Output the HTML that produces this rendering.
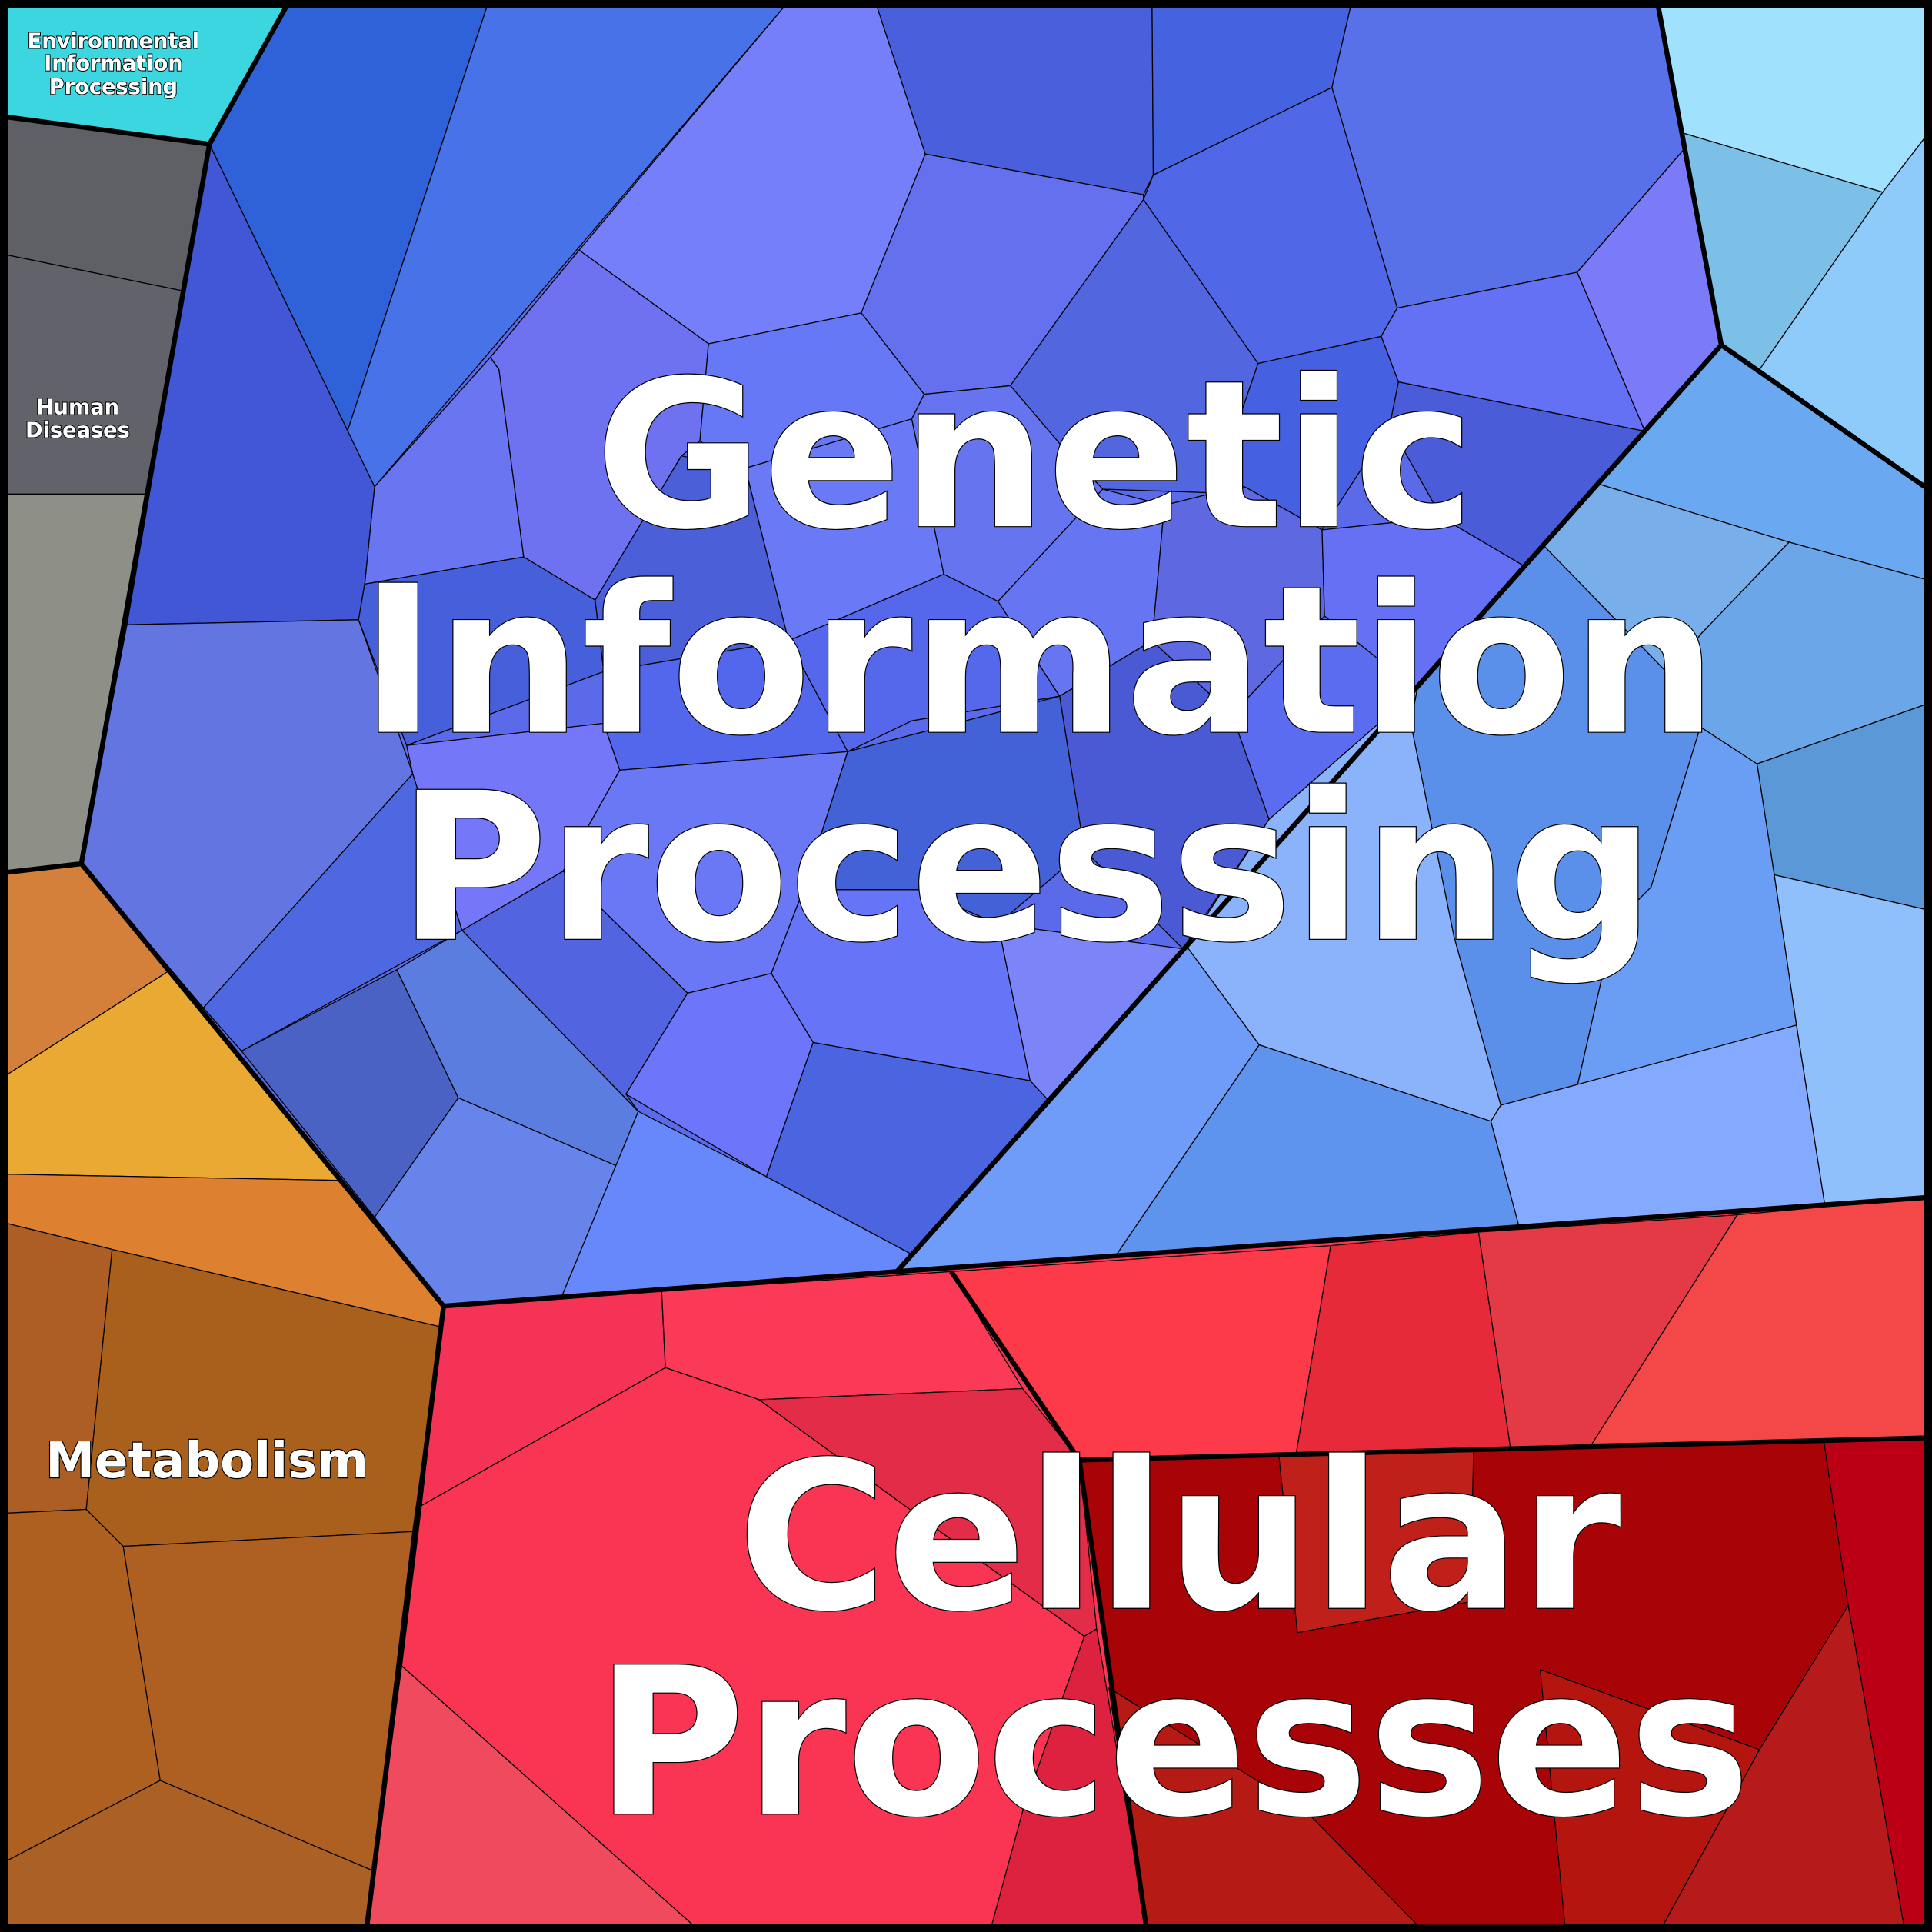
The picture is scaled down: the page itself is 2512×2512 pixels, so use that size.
<!DOCTYPE html>
<html><head><meta charset="utf-8"><style>
html,body{margin:0;padding:0;background:#000;}
svg{display:block;}
.c polygon{stroke:#000;stroke-width:0.8;stroke-linejoin:round;}
.b polygon{stroke:none;}
text{font-family:"DejaVu Sans","Liberation Sans",sans-serif;font-weight:bold;fill:#fff;stroke:#000;text-anchor:middle;paint-order:stroke;}
</style></head><body>
<svg width="2512" height="2512" viewBox="0 0 1568 1568" xmlns="http://www.w3.org/2000/svg">
<rect x="0" y="0" width="1568" height="1568" fill="#000"/>
<g class="b">
<polygon points="170,117 232,6 1346,6 1397,280 728,1032 360,1060 66,701" fill="#5a6ae8"/>
<polygon points="1397,280 1562,395 1562,972 728,1032" fill="#6e9cf8"/>
<polygon points="360,1060 728,1032 1562,972 1562,1562 298,1562" fill="#fa3553"/>
<polygon points="876,1185 1562,1167 1562,1562 930,1562" fill="#a80408"/>
</g>
<g class="c">
<polygon points="6,6 232,6 170,117 6,95" fill="#3bd6e0"/>
<polygon points="6,95 170,117 148,236 6,207" fill="#5f5f66"/>
<polygon points="6,207 148,236 118,401 6,401" fill="#62626a"/>
<polygon points="6,401 118,401 66,701 6,708" fill="#8e9088"/>
<polygon points="6,708 66,701 137,788 6,872" fill="#d4803a"/>
<polygon points="6,872 137,788 276,958 6,953" fill="#eaa933"/>
<polygon points="6,953 276,958 360,1060 358,1077 91,1014 6,993" fill="#dd8130"/>
<polygon points="6,993 91,1014 70,1225 6,1228" fill="#ad5e25"/>
<polygon points="91,1014 358,1077 335,1243 100,1255 70,1225" fill="#a8601c"/>
<polygon points="6,1228 70,1225 100,1255 130,1445 6,1510" fill="#ae6020"/>
<polygon points="100,1255 335,1243 302,1518 130,1445" fill="#ad6022"/>
<polygon points="6,1510 130,1445 302,1518 298,1562 6,1562" fill="#ab6125"/>
<polygon points="170,117 232,6 395,6 282,350 304,395" fill="#2f62d9"/>
<polygon points="395,6 636,6 304,395 282,350" fill="#4873e8"/>
<polygon points="470,203 636,6 712,6 751,125 699,254 575,279" fill="#757ff9"/>
<polygon points="712,6 935,6 936,142 928,158 751,125" fill="#4a5fdc"/>
<polygon points="935,6 1096,6 1081,71 936,142" fill="#4563e0"/>
<polygon points="1096,6 1346,6 1366,122 1280,221 1134,250 1081,71" fill="#5870e8"/>
<polygon points="1366,122 1397,280 1335,350 1280,221" fill="#7b7bfa"/>
<polygon points="936,142 1081,71 1134,250 1121,273 1021,295 928,162" fill="#5068e8"/>
<polygon points="751,125 928,158 928,162 820,313 750,320 699,254" fill="#6470ee"/>
<polygon points="1121,273 1134,250 1280,221 1335,350 1135,310" fill="#6571f5"/>
<polygon points="1021,295 1121,273 1135,310 1128,345 1073,430 1010,395 985,400" fill="#4560e0"/>
<polygon points="820,313 928,162 1021,295 985,400 895,397 860,360" fill="#5266e0"/>
<polygon points="1135,310 1335,350 1253,443 1238,460 1170,420 1128,345" fill="#4b5cd8"/>
<polygon points="304,395 398,290 405,300 425,452 296,474" fill="#6a75f2"/>
<polygon points="398,290 470,203 575,279 568,358 553,370 483,487 425,452 405,300" fill="#6e72f0"/>
<polygon points="575,279 699,254 750,320 740,340 605,380 568,358" fill="#6678f5"/>
<polygon points="170,117 304,395 296,474 291,503 103,507" fill="#4257d6"/>
<polygon points="103,507 291,503 335,628 165,818 66,701" fill="#6275e0"/>
<polygon points="165,818 335,628 375,755 196,853" fill="#4d68e0"/>
<polygon points="196,853 322,787 372,891 304,988" fill="#4a62c4"/>
<polygon points="322,787 375,755 518,902 500,946 372,891" fill="#5b7de0"/>
<polygon points="304,988 372,891 500,946 456,1052 360,1060" fill="#6784ea"/>
<polygon points="456,1052 518,902 622,955 740,1018 728,1032" fill="#6688fb"/>
<polygon points="518,902 375,755 457,707 558,806 508,888" fill="#5264e0"/>
<polygon points="508,888 558,806 626,790 660,846 622,955" fill="#6d76fa"/>
<polygon points="622,955 660,846 836,877 850,892 740,1018" fill="#4b64e0"/>
<polygon points="626,790 652,722 745,722 810,750 836,877 660,846" fill="#6674f8"/>
<polygon points="810,750 960,770 850,892 836,877" fill="#7c85f8"/>
<polygon points="296,474 425,452 483,487 490,545 330,605 291,503" fill="#4660dc"/>
<polygon points="330,605 490,587 503,625 457,707 375,755 335,628" fill="#7477f8"/>
<polygon points="503,625 688,610 652,722 626,790 558,806 457,707" fill="#6b78f5"/>
<polygon points="483,487 553,370 605,380 640,520 490,545" fill="#4a5fd8"/>
<polygon points="490,545 640,520 688,610 503,625 490,587" fill="#5267ec"/>
<polygon points="605,380 740,340 766,466 640,520" fill="#6a79f5"/>
<polygon points="640,520 766,466 810,488 860,565 740,585 688,610" fill="#5568ec"/>
<polygon points="688,610 860,565 880,690 810,750 745,722 652,722" fill="#4462d8"/>
<polygon points="740,340 750,320 820,313 860,360 895,397 810,488 766,466" fill="#6674f0"/>
<polygon points="810,488 895,397 945,410 935,520 860,565" fill="#6675f2"/>
<polygon points="860,565 935,520 1000,580 1030,665 960,770 880,690" fill="#4a5ad4"/>
<polygon points="945,410 985,400 1010,395 1073,430 1075,500 1000,580 935,520" fill="#5e68e0"/>
<polygon points="1073,430 1170,420 1238,460 1150,560 1075,500" fill="#6670f5"/>
<polygon points="1075,500 1150,560 1030,665 1000,580" fill="#5c6cf0"/>
<polygon points="1346,6 1562,6 1562,112 1528,156 1366,108" fill="#a0e2fd"/>
<polygon points="1366,108 1528,156 1428,300 1397,280" fill="#7cc0e8"/>
<polygon points="1528,156 1562,112 1562,395 1428,300" fill="#8ecbfa"/>
<polygon points="1397,280 1562,395 1562,470 1452,440 1298,393" fill="#6aa8f2"/>
<polygon points="1298,393 1452,440 1380,515 1355,548 1253,443" fill="#78aeea"/>
<polygon points="1452,440 1562,470 1562,572 1426,620 1380,590 1355,548 1380,515" fill="#6ba6e8"/>
<polygon points="1426,620 1562,572 1562,738 1440,710" fill="#5b98d8"/>
<polygon points="1440,710 1562,738 1562,972 1481,978 1458,832" fill="#8fc0fb"/>
<polygon points="1253,443 1355,548 1380,590 1340,720 1310,750 1280,882 1218,897 1180,760 1145,587 1150,560 1238,460" fill="#5b90ea"/>
<polygon points="1380,590 1426,620 1440,710 1458,832 1280,882 1310,750 1340,720" fill="#6a9ef5"/>
<polygon points="1150,560 1145,587 1180,760 1218,897 1210,910 1022,848 963,768 1030,665" fill="#8ab3fc"/>
<polygon points="963,768 1022,848 905,1020 728,1032 850,892" fill="#6e9cf8"/>
<polygon points="1022,848 1210,910 1233,996 905,1020" fill="#5e94ee"/>
<polygon points="1210,910 1218,897 1458,832 1481,978 1233,996" fill="#84aaff"/>
<polygon points="360,1060 537,1048 540,1110 342,1222" fill="#f43356"/>
<polygon points="537,1048 772,1032 830,1127 616,1136 540,1110" fill="#fb3a57"/>
<polygon points="772,1032 1080,1011 1052,1180 876,1185" fill="#fd3a4a"/>
<polygon points="1080,1011 1200,1000 1226,1176 1052,1180" fill="#e72a3a"/>
<polygon points="1200,1000 1410,986 1292,1172 1226,1176" fill="#e43a45"/>
<polygon points="1410,986 1562,972 1562,1167 1292,1172" fill="#f44848"/>
<polygon points="342,1222 540,1110 616,1136 880,1328 830,1470 805,1562 562,1562 326,1352" fill="#fa3553"/>
<polygon points="616,1136 830,1127 876,1185 890,1322 880,1328" fill="#e32c48"/>
<polygon points="326,1352 562,1562 298,1562" fill="#f04a5e"/>
<polygon points="880,1328 890,1322 930,1562 805,1562 830,1470" fill="#dd2240"/>
<polygon points="1038,1182 1196,1178 1193,1300 1053,1325" fill="#c0201a"/>
<polygon points="1480,1168 1562,1167 1562,1562 1545,1562 1500,1303" fill="#bb0016"/>
<polygon points="1500,1303 1545,1562 1350,1562 1428,1420" fill="#b61a1a"/>
<polygon points="1250,1355 1428,1420 1350,1562 1270,1562" fill="#b5150f"/>
<polygon points="900,1370 1060,1470 1150,1562 930,1562 912,1450" fill="#b51b14"/>
</g>
<g fill="none" stroke="#000" stroke-width="4" stroke-linejoin="round">
<polyline points="232,6 170,117 6,95"/>
<polyline points="170,117 66,701 6,708"/>
<polyline points="66,701 360,1060 298,1562"/>
<polyline points="360,1060 728,1032 1562,972"/>
<polyline points="1346,6 1397,280 1562,395"/>
<polyline points="1397,280 728,1032"/>
<polyline points="772,1032 876,1185 1562,1167"/>
<polyline points="876,1185 930,1562"/>
<rect x="3" y="3" width="1562" height="1562" stroke-width="6"/>
</g>
<g stroke-width="1.2">
<text x="92" y="39" font-size="17">Environmental</text>
<text x="92" y="57" font-size="17">Information</text>
<text x="92" y="76" font-size="17">Processing</text>
<text x="63" y="336" font-size="17">Human</text>
<text x="63" y="355" font-size="17">Diseases</text>
<text x="168" y="1199" font-size="40" stroke-width="1.5">Metabolism</text>
</g>
<g stroke-width="1.5">
<text x="840" y="427" font-size="166">Genetic</text>
<text x="843" y="594" font-size="166">Information</text>
<text x="833" y="762" font-size="166">Processing</text>
<text x="957" y="1305" font-size="166">Cellular</text>
<text x="952" y="1472" font-size="166">Processes</text>
</g>
</svg>
</body></html>
